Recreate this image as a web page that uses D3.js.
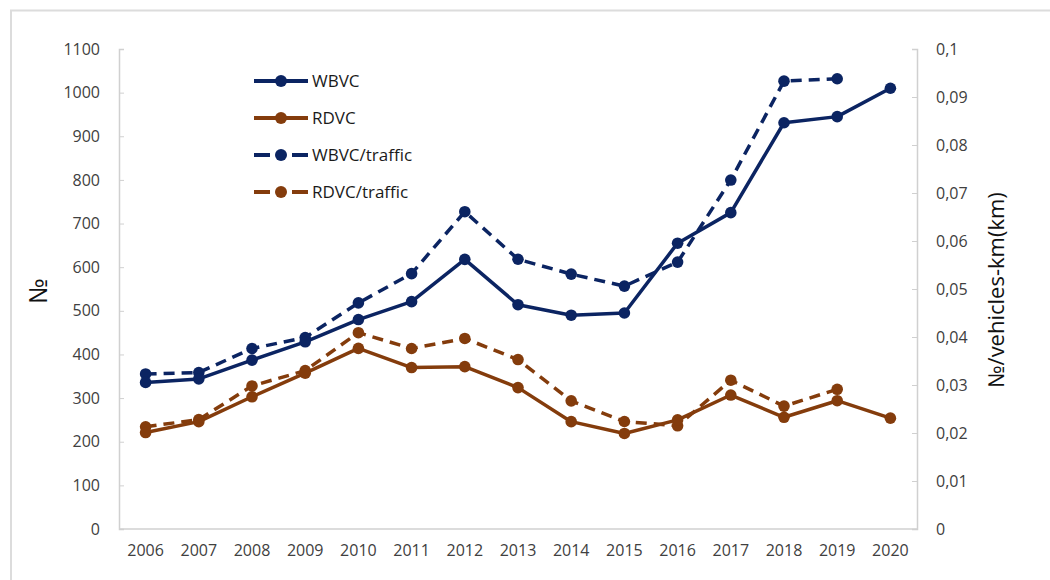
<!DOCTYPE html>
<html lang="en">
<head>
<meta charset="UTF-8">
<title>WBVC / RDVC</title>
<script src="https://d3js.org/d3.v7.min.js"></script>
<style>
  html, body { margin: 0; background: #fff; }
  text { font-family: "Open Sans", "Noto Sans", sans-serif; }
</style>
</head>
<body>
<svg id="chart" width="1050" height="580"></svg>
<script>
// data
const years = ["2006","2007","2008","2009","2010","2011","2012","2013","2014","2015","2016","2017","2018","2019","2020"];
const wbvc = [336, 344, 387, 429, 480, 521, 618, 514, 490, 495, 655, 725, 931, 945, 1010];
const rdvc = [221, 246, 303, 357, 414, 370, 372, 324, 246, 219, 250, 307, 256, 294, 254];
const wbvcTraffic = [0.0323, 0.0326, 0.0376, 0.0399, 0.0471, 0.0532, 0.0661, 0.0562, 0.0531, 0.0506, 0.0556, 0.0727, 0.0933, 0.0938, null];
const rdvcTraffic = [0.0213, 0.0228, 0.0298, 0.0330, 0.0409, 0.0376, 0.0397, 0.0353, 0.0267, 0.0224, 0.0215, 0.0310, 0.0256, 0.0291, null];
const leftTicks = [0,100,200,300,400,500,600,700,800,900,1000,1100];
const rightTicks = [0,0.01,0.02,0.03,0.04,0.05,0.06,0.07,0.08,0.09,0.1];

const navy = "#0b2462", brown = "#843c0c", axisCol = "#d0d0d0", txt = "#404040";

const svg = d3.select("#chart");
const mLeft = 119, mRight = 917, mTop = 49, mBottom = 529;

// frame (top + left only, as in the picture)
svg.append("path").attr("d", "M11,1050 V10.5 H1050")
  .attr("fill", "none").attr("stroke", "#dcdcdc").attr("stroke-width", 2);

const x = d3.scaleBand().domain(years).range([mLeft, mRight]);
const yL = d3.scaleLinear().domain([0, 1100]).range([mBottom, mTop]);
const yR = d3.scaleLinear().domain([0, 0.1]).range([mBottom, mTop]);
const cx = d => x(d) + x.bandwidth() / 2;

const fmtR = d => d === 0 ? "0" : String(+d.toFixed(2)).replace(".", ",");

// left axis
const gL = svg.append("g").attr("transform", `translate(${mLeft},0)`)
  .call(d3.axisLeft(yL).tickValues(leftTicks).tickFormat(d => String(d)).tickSize(-5).tickPadding(19));
// right axis
const gR = svg.append("g").attr("transform", `translate(${mRight},0)`)
  .call(d3.axisRight(yR).tickValues(rightTicks).tickFormat(fmtR).tickSize(-5).tickPadding(19));
// bottom axis
const gB = svg.append("g").attr("transform", `translate(0,${mBottom})`)
  .call(d3.axisBottom(x).tickSize(0).tickPadding(16));

[gL, gR, gB].forEach(g => {
  g.select(".domain").attr("stroke", axisCol).attr("stroke-width", 1.5);
  g.selectAll(".tick line").attr("stroke", axisCol).attr("stroke-width", 1);
  g.selectAll(".tick text").attr("fill", txt).style("font-size", "16px")
    .style("font-family", "'Open Sans', sans-serif");
});
gB.select(".domain").attr("d", `M${mLeft},0H${mRight}`);

// axis titles
svg.append("text").attr("transform", "translate(47,291) rotate(-90)")
  .attr("text-anchor", "middle").attr("fill", "#111").style("font-size", "25px").text("№");
svg.append("text").attr("transform", "translate(1004,290) rotate(-90)")
  .attr("text-anchor", "middle").attr("fill", "#111").style("font-size", "22px").text("№/vehicles-km(km)");

const series = [
  { name: "WBVC", vals: wbvc, y: yL, color: navy, dash: null },
  { name: "RDVC", vals: rdvc, y: yL, color: brown, dash: null },
  { name: "WBVC/traffic", vals: wbvcTraffic, y: yR, color: navy, dash: "11,7" },
  { name: "RDVC/traffic", vals: rdvcTraffic, y: yR, color: brown, dash: "11,7" }
];

// draw the dashed (secondary) ones first, then the solid on top
[series[2], series[3], series[0], series[1]].forEach(s => {
  const pts = years.map((yr, i) => ({ yr, v: s.vals[i] })).filter(p => p.v != null);
  const line = d3.line().x(p => cx(p.yr)).y(p => s.y(p.v));
  svg.append("path").datum(pts).attr("d", line)
    .attr("fill", "none").attr("stroke", s.color).attr("stroke-width", 3.5)
    .attr("stroke-linejoin", "round").attr("stroke-dasharray", s.dash);
  svg.append("g").selectAll("circle").data(pts).join("circle")
    .attr("cx", p => cx(p.yr)).attr("cy", p => s.y(p.v)).attr("r", 5.8)
    .attr("fill", s.color);
});

// legend
const leg = svg.append("g");
series.forEach((s, i) => {
  const ly = 81 + i * 37;
  if (s.dash) {
    leg.append("line").attr("x1", 254).attr("x2", 270).attr("y1", ly).attr("y2", ly)
      .attr("stroke", s.color).attr("stroke-width", 4);
    leg.append("line").attr("x1", 292).attr("x2", 308).attr("y1", ly).attr("y2", ly)
      .attr("stroke", s.color).attr("stroke-width", 4);
  } else {
    leg.append("line").attr("x1", 254).attr("x2", 308).attr("y1", ly).attr("y2", ly)
      .attr("stroke", s.color).attr("stroke-width", 4);
  }
  leg.append("circle").attr("cx", 281).attr("cy", ly).attr("r", 6).attr("fill", s.color);
  leg.append("text").attr("x", 312).attr("y", ly).attr("dy", "0.35em")
    .attr("fill", "#1a1a1a").style("font-size", "17px").text(s.name);
});
</script>
</body>
</html>
